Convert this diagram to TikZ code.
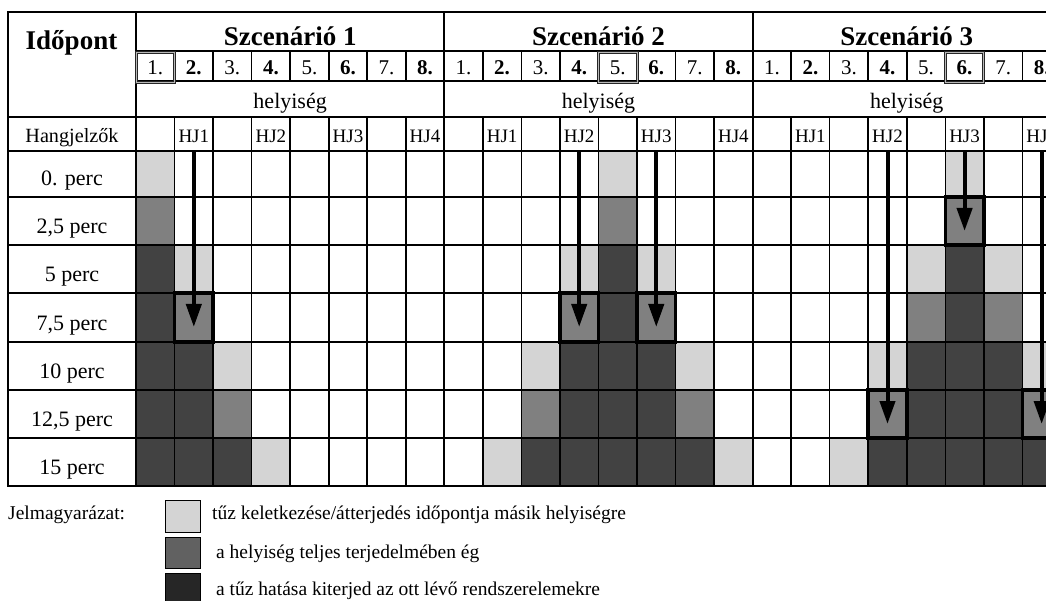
\documentclass[tikz,border=0pt]{standalone}
\usepackage{fontspec}
\setmainfont{Liberation Serif}
\usetikzlibrary{arrows.meta}
\definecolor{lightc}{gray}{0.83}
\definecolor{medc}{gray}{0.50}
\definecolor{darkc}{gray}{0.26}
\definecolor{legmed}{gray}{0.38}
\definecolor{legdark}{gray}{0.15}
\tikzset{
  thinline/.style={line width=1.6pt},
  thickline/.style={line width=2.1pt},
  hdr/.style={font=\fontsize{27}{30}\selectfont\bfseries, anchor=base, inner sep=0pt},
  numtxt/.style={font=\fontsize{21}{24}\selectfont, anchor=base, inner sep=0pt},
  numbold/.style={font=\fontsize{21}{24}\selectfont\bfseries, anchor=base, inner sep=0pt},
  lbl/.style={font=\fontsize{22}{24}\selectfont, anchor=base, inner sep=0pt},
  hjtxt/.style={font=\fontsize{19}{22}\selectfont, anchor=base, inner sep=0pt},
  legtxt/.style={font=\fontsize{19.5}{22}\selectfont, anchor=base west, inner sep=0pt},
  swatch/.style={draw=black, line width=0.8pt},
  framecell/.style={draw=black, line width=3.5pt},
  hjarrow/.style={line width=4pt, -{Triangle[width=15pt,length=23pt]}},
}
\def\ry{{151,197,245,293,342,390,438,486}}
\def\cw{38.54}
\def\sw{308.3}
\begin{document}
\begin{tikzpicture}[x=1pt,y=-1pt]
\useasboundingbox (0,0) rectangle (1046,601);
\fill[white] (0,0) rectangle (1046,601);
\begin{scope}
\clip (0,0) rectangle (1046,601);
% ---- fills: fire origin column / start row
\foreach \s/\c/\r in {1/1/0,1/2/2,1/3/4,1/4/6,
                      2/5/0,2/4/2,2/6/2,2/3/4,2/7/4,2/2/6,2/8/6,
                      3/6/0,3/5/2,3/7/2,3/4/4,3/8/4,3/3/6} {
  \pgfmathsetmacro\xa{136+(\s-1)*\sw+(\c-1)*\cw}
  \pgfmathsetmacro\xb{\xa+\cw}
  \pgfmathsetmacro\ya{\ry[\r]}
  \pgfmathsetmacro\yb{\ry[\r+1]}
  \fill[lightc] (\xa,\ya) rectangle (\xb,\yb);
  \ifnum\r<6
    \pgfmathsetmacro\yc{\ry[\r+2]}
    \fill[medc] (\xa,\yb) rectangle (\xb,\yc);
    \ifnum\r<5
      \fill[darkc] (\xa,\yc) rectangle (\xb,486);
    \fi
  \fi
}
% ---- grid
\foreach \y in {151,197,245,293,342,390,438}
  \draw[thinline] (8,\y) -- (1061,\y);
\draw[thickline] (8,117) -- (1061,117);
\foreach \y in {51,81}
  \draw[thinline] (136,\y) -- (1061,\y);
\foreach \s in {1,2,3} {
  \foreach \c in {2,...,8} {
    \pgfmathsetmacro\xx{136+(\s-1)*\sw+(\c-1)*\cw}
    \draw[thinline] (\xx,51) -- (\xx,81);
    \draw[thinline] (\xx,117) -- (\xx,486);
  }
}
\foreach \xx in {136,444.3,752.6}
  \draw[thickline] (\xx,12) -- (\xx,486);
\draw[thickline] (8,12) rectangle (1061,486);
% ---- framed numbers in header
\foreach \s/\c in {1/1,2/5,3/6} {
  \pgfmathsetmacro\xa{136+(\s-1)*\sw+(\c-1)*\cw}
  \pgfmathsetmacro\xb{\xa+\cw}
  \draw[line width=3pt, black!85] (\xa,52.5) rectangle (\xb,82.5);
  \draw[line width=0.8pt, gray!55] (\xa,52.5) rectangle (\xb,82.5);
}
% ---- framed cells and arrows
\foreach \s/\c/\r in {1/2/3,2/4/3,2/6/3,3/6/1,3/4/5,3/8/5} {
  \pgfmathsetmacro\xa{136+(\s-1)*\sw+(\c-1)*\cw}
  \pgfmathsetmacro\xb{\xa+\cw}
  \pgfmathsetmacro\xm{\xa+\cw/2}
  \pgfmathsetmacro\ya{\ry[\r]}
  \pgfmathsetmacro\yb{\ry[\r+1]}
  \draw[framecell] (\xa,\ya) rectangle (\xb,\yb);
  \coordinate (as\s-\c) at (\xm,151);
  \coordinate (ae\s-\c) at (\xm,\ya+34);
  \draw[hjarrow] (as\s-\c) -- (ae\s-\c);
}
% ---- header texts
\node[hdr] (idopont) at (71.5,50) {Időpont};
\foreach \s in {1,2,3} {
  \pgfmathsetmacro\sx{136+(\s-1)*\sw}
  \node[hdr] (sz\s) at (\sx+\sw/2,46) {Szcenárió \s};
  \node[lbl] (hely\s) at (\sx+\sw/2,109) {helyiség};
  \foreach \c in {1,...,8} {
    \pgfmathsetmacro\cx{\sx+(\c-0.5)*\cw}
    \ifodd\c
      \node[numtxt] (n\s-\c) at (\cx,75) {\c.};
    \else
      \node[numbold] (n\s-\c) at (\cx,75) {\c.};
    \fi
  }
  \foreach \c/\h in {2/1,4/2,6/3,8/4} {
    \pgfmathsetmacro\cx{\sx+(\c-0.5)*\cw}
    \node[hjtxt] (hj\s-\h) at (\cx,143) {HJ\h};
  }
}
\node[font=\fontsize{20.2}{22}\selectfont, anchor=base, inner sep=0pt] (hang) at (72,143) {Hangjelzők};
\node[lbl] (t0) at (72,186) {0. perc};
\node[lbl] (t1) at (72,233.5) {2,5 perc};
\node[lbl] (t2) at (72,281.5) {5 perc};
\node[lbl] (t3) at (72,330.5) {7,5 perc};
\node[lbl] (t4) at (72,378.5) {10 perc};
\node[lbl] (t5) at (72,426.5) {12,5 perc};
\node[lbl] (t6) at (72,474.5) {15 perc};
% ---- legend
\node[legtxt] (jm) at (8,519) {Jelmagyarázat:};
\draw[swatch, fill=lightc] (165,500) rectangle (200,532);
\draw[swatch, fill=legmed] (165,537) rectangle (200,568);
\draw[swatch, fill=legdark] (165,573) rectangle (200,604);
\node[legtxt] (l1) at (212,519) {tűz keletkezése/átterjedés időpontja másik helyiségre};
\node[legtxt] (l2) at (216,558) {a helyiség teljes terjedelmében ég};
\node[legtxt] (l3) at (216,595) {a tűz hatása kiterjed az ott lévő rendszerelemekre};
\end{scope}
\end{tikzpicture}
\end{document}
